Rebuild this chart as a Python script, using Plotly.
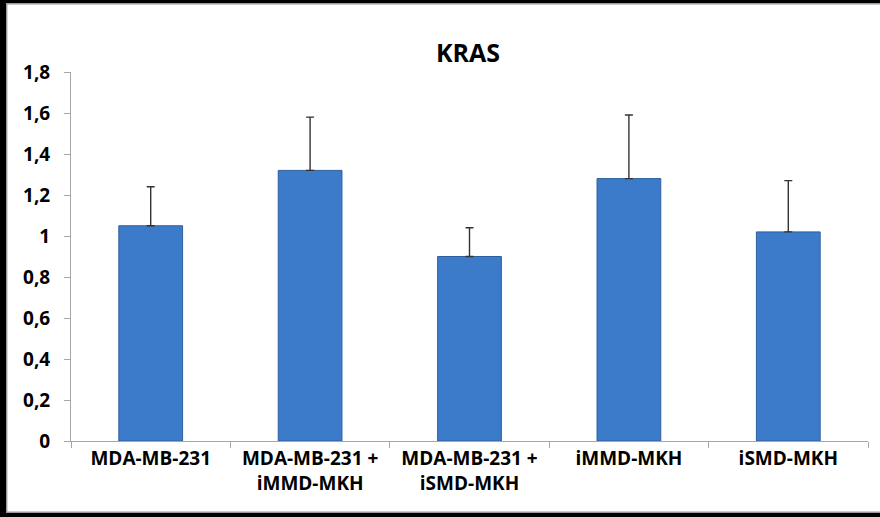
import plotly.graph_objects as go

# KRAS relative expression per cell group (mean and upper SD)
categories = [
    "MDA-MB-231",
    "MDA-MB-231 +<br>iMMD-MKH",
    "MDA-MB-231 +<br>iSMD-MKH",
    "iMMD-MKH",
    "iSMD-MKH",
]
means = [1.05, 1.32, 0.90, 1.28, 1.02]
sd_upper = [0.19, 0.26, 0.14, 0.31, 0.25]

W, H = 880, 517
ML, MR, MT, MB = 71, 12, 72, 76
PW, PH = W - ML - MR, H - MT - MB


def px_x(p):
    return (p - ML) / PW


def px_y(p):
    return 1 - (p - MT) / PH


FONT = "Open Sans"

fig = go.Figure()
fig.add_trace(
    go.Bar(
        x=categories,
        y=means,
        width=0.4,
        marker=dict(color="#3C7BCA", line=dict(color="#2F5F9F", width=1)),
        error_y=dict(
            type="data",
            symmetric=False,
            array=sd_upper,
            arrayminus=[0] * len(sd_upper),
            color="#333333",
            thickness=1.4,
            width=4,
        ),
        hoverinfo="skip",
    )
)

# black bands on the left, top and bottom edges
for x0, x1, y0, y1 in [(0, 6, 0, H), (0, W, 0, 3), (0, W, 513, H)]:
    fig.add_shape(
        type="rect", xref="paper", yref="paper",
        x0=px_x(x0), x1=px_x(x1), y0=px_y(y1), y1=px_y(y0),
        fillcolor="black", line=dict(width=0), layer="below",
    )
# thin grey inner rule along the frame
fig.add_shape(
    type="path", xref="paper", yref="paper",
    path=(
        f"M {px_x(W)},{px_y(3.7)} L {px_x(6.7)},{px_y(3.7)} "
        f"L {px_x(6.7)},{px_y(512.3)} L {px_x(W)},{px_y(512.3)}"
    ),
    line=dict(color="#9a9a9a", width=1.4), layer="below",
)

fig.update_layout(
    width=W,
    height=H,
    autosize=False,
    margin=dict(l=ML, r=MR, t=MT, b=MB, pad=0),
    paper_bgcolor="white",
    plot_bgcolor="rgba(0,0,0,0)",
    separators=", ",
    showlegend=False,
    bargap=0.6,
    title=dict(
        text="<b>KRAS</b>",
        xref="container",
        yref="container",
        x=468 / W,
        xanchor="center",
        y=1 - 53 / H,
        yanchor="middle",
        font=dict(family=FONT, size=25, color="black"),
    ),
    font=dict(family=FONT, color="black"),
    yaxis=dict(
        range=[0, 1.8],
        dtick=0.2,
        showgrid=False,
        zeroline=False,
        showline=True,
        linecolor="#a6a6a6",
        linewidth=1,
        ticks="outside",
        ticklen=6,
        tickcolor="#a6a6a6",
        ticklabelstandoff=10,
        automargin=False,
        tickfont=dict(family=FONT, size=19, color="black", weight="bold"),
    ),
    xaxis=dict(
        showgrid=False,
        showline=True,
        linecolor="#a6a6a6",
        linewidth=1,
        ticks="outside",
        tickson="boundaries",
        ticklen=6,
        tickcolor="#a6a6a6",
        automargin=False,
        tickfont=dict(family=FONT, size=19, color="black", weight="bold"),
    ),
)

fig.write_html("out.html", config={"displayModeBar": False})
